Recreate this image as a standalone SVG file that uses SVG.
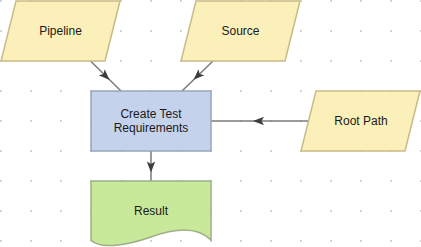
<svg xmlns="http://www.w3.org/2000/svg" xmlns:xlink="http://www.w3.org/1999/xlink" width="421" height="247" viewBox="0 0 421 247">
  <style>
    .io { fill: #fbf0b9; stroke: #c9bb87; stroke-width: 1.5; }
    .proc { fill: #c4d2eb; stroke: #98a5b8; stroke-width: 1.5; }
    .doc { fill: #c8e99a; stroke: #9fae88; stroke-width: 1.5; }
    .lbl { font-family: "Liberation Sans", Arial, sans-serif; font-size: 12px; fill: #1a1a1a; text-anchor: middle; }
    .edge { stroke: #7a7a7a; stroke-width: 1.5; fill: none; }
    .ah { fill: #3d3d3d; }
  </style>
  <defs>
    <pattern id="grid" x="0" y="0" width="30" height="30" patternUnits="userSpaceOnUse">
      <circle cx="1" cy="1" r="1.1" fill="#cfcfcf"/>
    </pattern>
    <path id="arrow" d="M0,0 L-11,-4.2 L-8.5,0 L-11,4.2 Z"/>
  </defs>
  <rect x="0" y="0" width="421" height="247" fill="#ffffff"/>
  <rect x="0" y="0" width="421" height="247" fill="url(#grid)"/>

  <g id="connectors">
    <line class="edge" x1="90.5" y1="61" x2="121" y2="91"/>
    <use href="#arrow" class="ah" transform="translate(109.6,79.9) rotate(44.5)"/>
    <line class="edge" x1="213" y1="61" x2="182" y2="91"/>
    <use href="#arrow" class="ah" transform="translate(193.5,79.8) rotate(135.9)"/>
    <line class="edge" x1="309" y1="121" x2="211" y2="121"/>
    <use href="#arrow" class="ah" transform="translate(253,121) rotate(180)"/>
    <line class="edge" x1="151" y1="151" x2="151" y2="181"/>
    <use href="#arrow" class="ah" transform="translate(151,172.5) rotate(90)"/>
  </g>

  <g id="pipeline">
    <polygon class="io" points="16,1 120,1 105,61 1,61"/>
    <text class="lbl" x="60.5" y="35">Pipeline</text>
  </g>
  <g id="source">
    <polygon class="io" points="196,1 300,1 285,61 181,61"/>
    <text class="lbl" x="240.5" y="35">Source</text>
  </g>
  <g id="create-test-requirements">
    <rect class="proc" x="91" y="91" width="120" height="60"/>
    <text class="lbl" x="151" y="118">Create Test</text>
    <text class="lbl" x="151" y="131.5">Requirements</text>
  </g>
  <g id="root-path">
    <polygon class="io" points="316,91 420,91 405,151 301,151"/>
    <text class="lbl" x="361" y="125">Root Path</text>
  </g>
  <g id="result">
    <path class="doc" d="M91,181 H211 V240 C195,224 170,230 151,237 C128,245 100,250 91,240 Z"/>
    <text class="lbl" x="151" y="215">Result</text>
  </g>
</svg>
